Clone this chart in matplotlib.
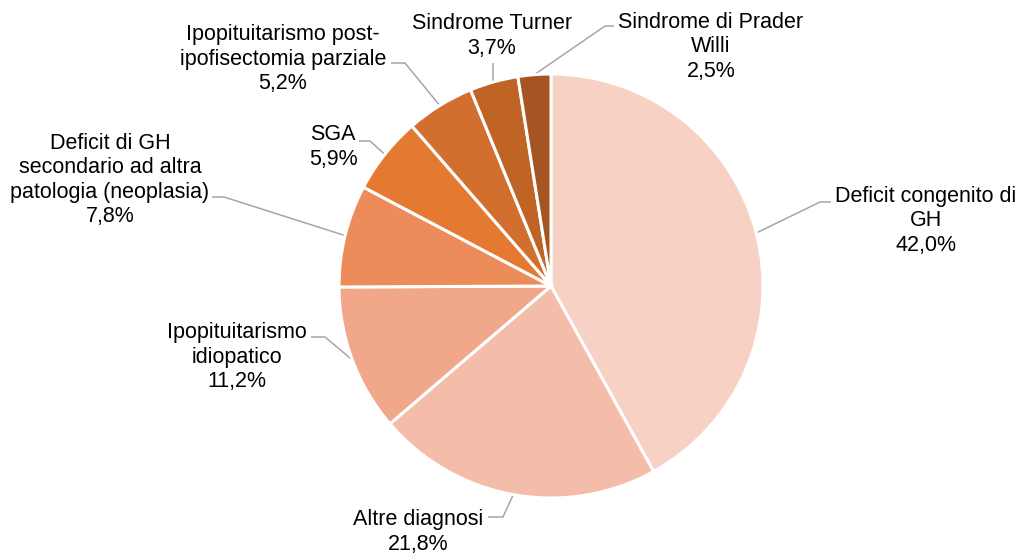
import numpy as np
import matplotlib
matplotlib.use("Agg")
import matplotlib.pyplot as plt

plt.rcParams['font.family'] = ['Liberation Sans', 'DejaVu Sans']

# data
labels = [
    "Deficit congenito di\nGH",
    "Altre diagnosi",
    "Ipopituitarismo\nidiopatico",
    "Deficit di GH\nsecondario ad altra\npatologia (neoplasia)",
    "SGA",
    "Ipopituitarismo post-\nipofisectomia parziale",
    "Sindrome Turner",
    "Sindrome di Prader\nWilli",
]
values = [42.0, 21.8, 11.2, 7.8, 5.9, 5.2, 3.7, 2.5]
pct_text = ["42,0%", "21,8%", "11,2%", "7,8%", "5,9%", "5,2%", "3,7%", "2,5%"]

colors = ["#F7D1C4", "#F3BDAA", "#F0A78A", "#ED8C5B",
          "#E47A32", "#D36F2E", "#C06426", "#A55522"]

W, H = 1017, 554
CX, CY, R = 551, 286, 212

# label placement in pixel coords (y down): text center, leader elbow, leader end at text
label_pos = [(926, 221), (418, 532), (237, 357), (110, 180),
             (333, 147), (283, 59), (492, 36), (711, 47)]
elbows = [(820, 202), (503, 517), (325, 337), (224, 197),
          (370, 141), (405, 63), (493, 80), (605, 26)]
text_ends = [(831, 202), (488, 517), (311, 337), (212, 197),
             (359, 141), (391, 63), (493, 63), (614, 26)]


def fy(y):
    return H - y


fig = plt.figure(figsize=(W / 100, H / 100), dpi=100)
ax = fig.add_axes([0, 0, 1, 1])

wedges, _ = ax.pie(values, colors=colors, startangle=90, counterclock=False,
                   center=(CX, fy(CY)), radius=R, frame=True,
                   wedgeprops=dict(edgecolor='white', linewidth=2.2))
ax.set_xlim(0, W)
ax.set_ylim(0, H)
ax.set_aspect('equal')
ax.axis('off')

for i, w in enumerate(wedges):
    ang = np.deg2rad((w.theta1 + w.theta2) / 2)
    px = CX + R * np.cos(ang)
    py = fy(CY) + R * np.sin(ang)
    ex, ey = elbows[i]
    tx, ty = text_ends[i]
    ax.plot([px, ex, tx], [py, fy(ey), fy(ty)], color='#A6A6A6', lw=1.1,
            solid_capstyle='butt', zorder=0)
    lx, ly = label_pos[i]
    ax.text(lx, fy(ly), labels[i] + "\n" + pct_text[i], ha='center', va='center',
            multialignment='center', fontsize=15.5, linespacing=1.22, color='#000000')

fig.savefig("out.png", dpi=100)
